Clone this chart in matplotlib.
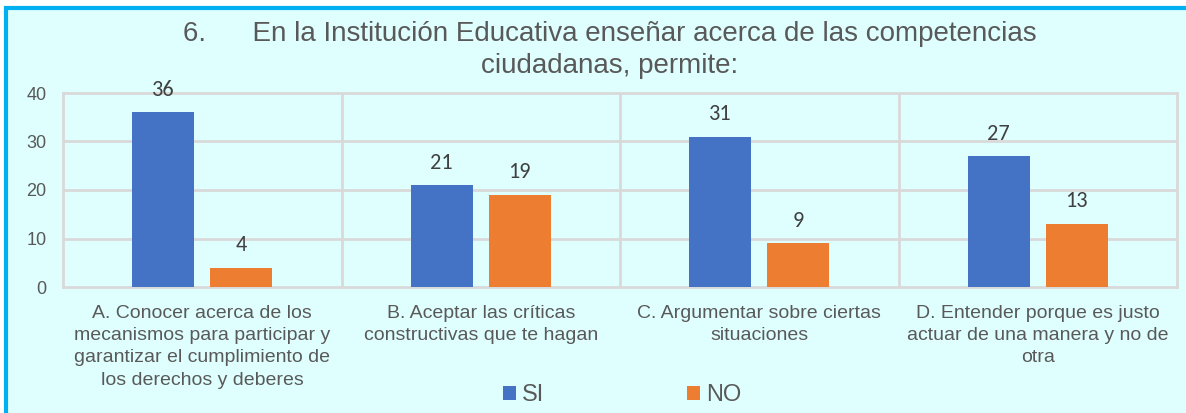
import matplotlib.pyplot as plt
import matplotlib.patches as patches
import numpy as np

categorias = [
    "A. Conocer acerca de los\nmecanismos para participar y\ngarantizar el cumplimiento de\nlos derechos y deberes",
    "B. Aceptar las críticas\nconstructivas que te hagan",
    "C. Argumentar sobre ciertas\nsituaciones",
    "D. Entender porque es justo\nactuar de una manera y no de\notra",
]
si = [36, 21, 31, 27]
no = [4, 19, 9, 13]
titulo = "6.      En la Institución Educativa enseñar acerca de las competencias\nciudadanas, permite:"

gris = "#595959"
plt.rcParams['font.family'] = ['Liberation Sans', 'DejaVu Sans']

fig = plt.figure(figsize=(11.86, 4.13), dpi=100)
fig.patch.set_facecolor("white")
# fondo y borde del grafico
fig.patches.append(patches.Rectangle((6 / 1186, -0.05), 1.1, 1 - 8 / 413 + 0.05,
                                     transform=fig.transFigure, facecolor="#dfffff",
                                     edgecolor="#00b0f0", linewidth=3, zorder=-10))

ax = fig.add_axes([63 / 1186, 1 - 287 / 413, (1177 - 63) / 1186, (287 - 93) / 413])
ax.set_facecolor("none")

x = np.arange(len(categorias))
w = 0.222
b1 = ax.bar(x - 0.14, si, w, color="#4472c4", label="SI", zorder=3)
b2 = ax.bar(x + 0.14, no, w, color="#ed7d31", label="NO", zorder=3)
for barras in (b1, b2):
    ax.bar_label(barras, padding=9, fontsize=16, color="#404040",
                 family=['Carlito', 'DejaVu Sans'])

ax.set_xlim(-0.5, 3.5)
ax.set_ylim(0, 40)
ax.set_yticks([0, 10, 20, 30, 40])
ax.set_xticks(x)
ax.set_xticklabels(categorias, fontsize=14, color=gris, linespacing=1.4)
ax.tick_params(axis="x", length=0, pad=13)
ax.tick_params(axis="y", length=0, pad=12, labelsize=13, labelcolor=gris)
for yv in [10, 20, 30]:
    ax.axhline(yv, color="#d9d9d9", linewidth=2, zorder=1)
for xv in [0.5, 1.5, 2.5]:
    ax.axvline(xv, color="#d9d9d9", linewidth=2, zorder=1)
for s in ax.spines.values():
    s.set_color("#d9d9d9")
    s.set_linewidth(2)

fig.text(610 / 1186, 1 - 50 / 413, titulo, ha="center", va="center",
         fontsize=20, color=gris, linespacing=1.3)

fig.legend(handles=[b1, b2], loc="center", bbox_to_anchor=(622 / 1186, 1 - 395 / 413),
           ncol=2, frameon=False, fontsize=17, labelcolor=gris, handlelength=0.55,
           handleheight=0.55, handletextpad=0.25, columnspacing=6.05)

fig.savefig("out.png", dpi=100)
